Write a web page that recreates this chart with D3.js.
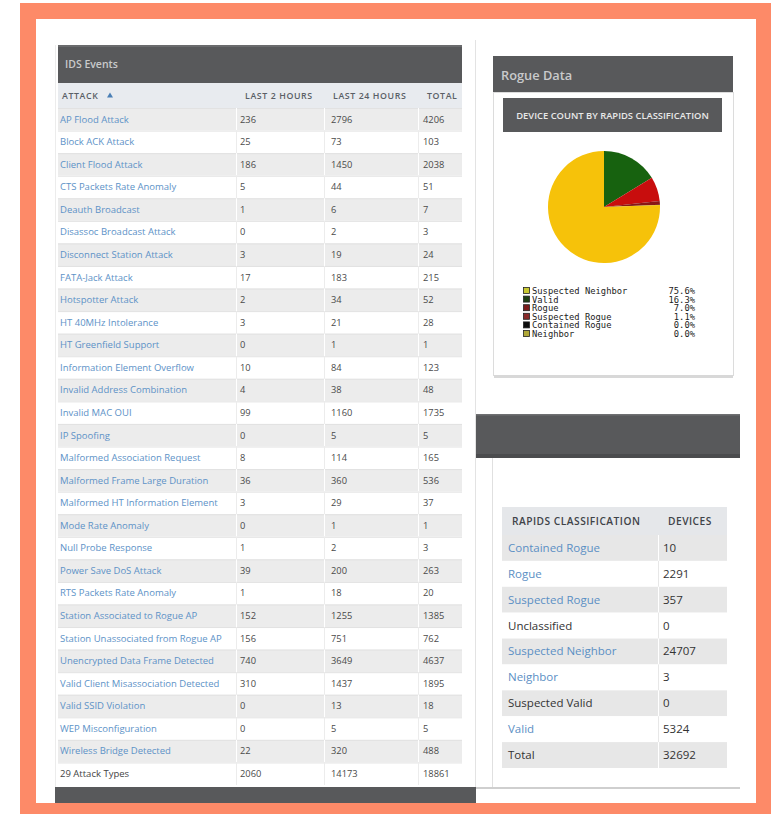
<!DOCTYPE html>
<html><head><meta charset="utf-8">
<script src="https://cdn.jsdelivr.net/npm/d3@7"></script>
<style>html,body{margin:0;padding:0;background:#fff;}svg{display:block;font-family:"Open Sans",sans-serif;}</style>
</head><body>
<script>
// ---------- DATA ----------
const attackNames = ["AP Flood Attack","Block ACK Attack","Client Flood Attack","CTS Packets Rate Anomaly","Deauth Broadcast","Disassoc Broadcast Attack","Disconnect Station Attack","FATA-Jack Attack","Hotspotter Attack","HT 40MHz Intolerance","HT Greenfield Support","Information Element Overflow","Invalid Address Combination","Invalid MAC OUI","IP Spoofing","Malformed Association Request","Malformed Frame Large Duration","Malformed HT Information Element","Mode Rate Anomaly","Null Probe Response","Power Save DoS Attack","RTS Packets Rate Anomaly","Station Associated to Rogue AP","Station Unassociated from Rogue AP","Unencrypted Data Frame Detected","Valid Client Misassociation Detected","Valid SSID Violation","WEP Misconfiguration","Wireless Bridge Detected"];
const last2Hours  = [236,25,186,5,1,0,3,17,2,3,0,10,4,99,0,8,36,3,0,1,39,1,152,156,740,310,0,0,22];
const last24Hours = [2796,73,1450,44,6,2,19,183,34,21,1,84,38,1160,5,114,360,29,1,2,200,18,1255,751,3649,1437,13,5,320];
const totalEvents = [4206,103,2038,51,7,3,24,215,52,28,1,123,48,1735,5,165,536,37,1,3,263,20,1385,762,4637,1895,18,5,488];
const attackTotalRow = ["29 Attack Types", 2060, 14173, 18861];
const attackColumns = ["ATTACK","LAST 2 HOURS","LAST 24 HOURS","TOTAL"];

const rapidsClasses = ["Contained Rogue","Rogue","Suspected Rogue","Unclassified","Suspected Neighbor","Neighbor","Suspected Valid","Valid"];
const rapidsDevices = [10,2291,357,0,24707,3,0,5324];
const rapidsLinked  = [true,true,true,false,true,true,false,true];
const rapidsTotal   = ["Total", 32692];
const rapidsColumns = ["RAPIDS CLASSIFICATION","DEVICES"];

// pie slices drawn clockwise from 12 o'clock
const pieLabels = ["Valid","Rogue","Suspected Rogue","Contained Rogue","Neighbor","Suspected Neighbor"];
const pieValues = [5324,2291,357,10,3,24707];
const pieColors = ["#17620f","#c80d0d","#8a1515","#111111","#9c9a2a","#f6c20a"];
const legendOrder = ["Suspected Neighbor","Valid","Rogue","Suspected Rogue","Contained Rogue","Neighbor"];
const legendPct   = ["75.6%","16.3%","7.0%","1.1%","0.0%","0.0%"];
const legendSwatch = ["#c8c830","#1c3f12","#7a1a1a","#8a2a2a","#0c0c0c","#b0a838"];

// ---------- DRAW ----------
const W = 777, H = 814;
const svg = d3.select("body").append("svg").attr("width", W).attr("height", H);

svg.append("rect").attr("x",20).attr("y",3).attr("width",751).attr("height",811).attr("fill","#fd8a68");
svg.append("rect").attr("x",36).attr("y",19).attr("width",720).attr("height",784).attr("fill","#ffffff");

const dark = "#58595b";

// ===== Left panel: IDS Events =====
svg.append("line").attr("x1",475.5).attr("x2",475.5).attr("y1",40).attr("y2",787).attr("stroke","#e3e3e3");
svg.append("line").attr("x1",55.5).attr("x2",55.5).attr("y1",45).attr("y2",787).attr("stroke","#ececec");
svg.append("rect").attr("x",58).attr("y",45).attr("width",404).attr("height",38).attr("fill",dark);
svg.append("rect").attr("x",58).attr("y",45).attr("width",404).attr("height",2).attr("fill","#6a6b6d");
svg.append("text").attr("x",65).attr("y",67.5).attr("fill","#c9cacb").attr("font-size",10.5).attr("font-weight",600).text("IDS Events");

const colX = [60, 240, 331, 423];
const hdrX = [62, 245, 333, 427];
const divX = [236, 324, 418];
const tableLeft = 58, tableRight = 462;

svg.append("rect").attr("x",tableLeft).attr("y",83).attr("width",tableRight-tableLeft).attr("height",25).attr("fill","#e8ebef");
const hdr = svg.append("g");
attackColumns.forEach((c,i)=>{
  hdr.append("text").attr("x",hdrX[i]).attr("y",98.5).attr("fill","#5a5f66").attr("font-size",8.8).attr("font-weight",600).attr("letter-spacing",0.6).text(c);
});
hdr.append("path").attr("d","M107,97.5 L113,97.5 L110,92.5 Z").attr("fill","#4a7fb5");

const rowsData = attackNames.map((n,i)=>({name:n, a:last2Hours[i], b:last24Hours[i], c:totalEvents[i], link:true}));
rowsData.push({name:attackTotalRow[0], a:attackTotalRow[1], b:attackTotalRow[2], c:attackTotalRow[3], link:false});

const yRows = d3.scaleBand().domain(d3.range(rowsData.length)).range([108,785]);
const rg = svg.append("g").selectAll("g").data(rowsData).join("g")
  .attr("transform",(d,i)=>`translate(0,${yRows(i)})`);
rg.append("rect").attr("x",tableLeft).attr("width",tableRight-tableLeft).attr("height",yRows.bandwidth())
  .attr("fill",(d,i)=> i%2===0 ? "#ececec" : "#ffffff");
rg.append("rect").attr("x",tableLeft).attr("width",tableRight-tableLeft).attr("height",1).attr("fill","#e2e2e2");
divX.forEach(x=>{ rg.append("rect").attr("x",x).attr("width",1).attr("height",yRows.bandwidth()).attr("fill",(d,i)=> i%2===0 ? "#ffffff":"#ececec"); });
const ty = yRows.bandwidth()/2 + 3.3;
rg.append("text").attr("x",colX[0]).attr("y",ty).attr("font-size",9.5).attr("fill",d=>d.link?"#5d92c7":"#444").text(d=>d.name);
rg.append("text").attr("x",colX[1]).attr("y",ty).attr("font-size",9.3).attr("fill","#4a4a4a").text(d=>d.a);
rg.append("text").attr("x",colX[2]).attr("y",ty).attr("font-size",9.3).attr("fill","#4a4a4a").text(d=>d.b);
rg.append("text").attr("x",colX[3]).attr("y",ty).attr("font-size",9.3).attr("fill","#4a4a4a").text(d=>d.c);

svg.append("rect").attr("x",55).attr("y",787).attr("width",421).attr("height",16).attr("fill",dark);

// ===== Right top: Rogue Data =====
svg.append("rect").attr("x",493).attr("y",56).attr("width",240).attr("height",36).attr("fill",dark);
svg.append("text").attr("x",501).attr("y",79.5).attr("fill","#c9cacb").attr("font-size",12.8).attr("font-weight",600).text("Rogue Data");
svg.append("rect").attr("x",493.5).attr("y",92.5).attr("width",240).attr("height",283).attr("fill","#fff").attr("stroke","#dcdcdc");
svg.append("rect").attr("x",494).attr("y",375).attr("width",239).attr("height",3).attr("fill","#d8d8d8");
svg.append("rect").attr("x",503).attr("y",98).attr("width",219).attr("height",34).attr("fill",dark);
svg.append("text").attr("x",612.5).attr("y",119).attr("text-anchor","middle").attr("fill","#e8e8e8").attr("font-size",9.4).attr("font-weight",600).text("DEVICE COUNT BY RAPIDS CLASSIFICATION");

const pie = d3.pie().sort(null).value(d=>d)(pieValues);
const arc = d3.arc().innerRadius(0).outerRadius(56);
svg.append("g").attr("transform","translate(604,207)").selectAll("path").data(pie).join("path")
  .attr("d",arc).attr("fill",(d,i)=>pieColors[i]);

const lg = svg.append("g").selectAll("g").data(legendOrder).join("g")
  .attr("transform",(d,i)=>`translate(0,${293 + i*8.6})`);
lg.append("rect").attr("x",523.5).attr("y",-5.5).attr("width",6).attr("height",6).attr("fill",(d,i)=>legendSwatch[i]).attr("stroke","#222").attr("stroke-width",0.8);
lg.append("text").attr("x",532).attr("y",1).attr("font-family","DejaVu Sans Mono, monospace").attr("font-size",8.8).attr("fill","#222").text(d=>d);
lg.append("text").attr("x",695).attr("y",1).attr("text-anchor","end").attr("font-family","DejaVu Sans Mono, monospace").attr("font-size",8.8).attr("fill","#222").text((d,i)=>legendPct[i]);

// ===== Right bottom panel =====
svg.append("rect").attr("x",476).attr("y",414).attr("width",264).attr("height",44).attr("fill",dark);
svg.append("rect").attr("x",476).attr("y",414).attr("width",264).attr("height",1.5).attr("fill","#6f7072");
svg.append("rect").attr("x",476).attr("y",454).attr("width",264).attr("height",4).attr("fill","#4b4c4e");
svg.append("line").attr("x1",492.5).attr("x2",492.5).attr("y1",458).attr("y2",788).attr("stroke","#e0e0e0");
svg.append("rect").attr("x",476).attr("y",787).attr("width",264).attr("height",2).attr("fill","#cfcfcf");

const tL = 502, tR = 727, divR = 658;
svg.append("rect").attr("x",tL).attr("y",507).attr("width",tR-tL).attr("height",28).attr("fill","#e5e7ea");
svg.append("text").attr("x",512).attr("y",525).attr("font-size",10.2).attr("font-weight",600).attr("letter-spacing",0.5).attr("fill","#3f4348").text(rapidsColumns[0]);
svg.append("text").attr("x",668).attr("y",525).attr("font-size",10.2).attr("font-weight",600).attr("letter-spacing",0.5).attr("fill","#3f4348").text(rapidsColumns[1]);

const rRows = rapidsClasses.map((c,i)=>({name:c, v:rapidsDevices[i], link:rapidsLinked[i]}));
rRows.push({name:rapidsTotal[0], v:rapidsTotal[1], link:false});
const yR = d3.scaleBand().domain(d3.range(rRows.length)).range([535,768]);
const rr = svg.append("g").selectAll("g").data(rRows).join("g").attr("transform",(d,i)=>`translate(0,${yR(i)})`);
rr.append("rect").attr("x",tL).attr("width",tR-tL).attr("height",yR.bandwidth()).attr("fill",(d,i)=>i%2===0?"#e7e7e7":"#ffffff");
rr.append("rect").attr("x",divR).attr("width",1).attr("height",yR.bandwidth()).attr("fill",(d,i)=>i%2===0?"#ffffff":"#e7e7e7");
rr.append("text").attr("x",508).attr("y",yR.bandwidth()/2+4).attr("font-size",11.5).attr("fill",d=>d.link?"#5b8fc4":"#333").text(d=>d.name);
rr.append("text").attr("x",663).attr("y",yR.bandwidth()/2+4).attr("font-size",11.5).attr("fill","#333").text(d=>d.v);
</script>
</body></html>
